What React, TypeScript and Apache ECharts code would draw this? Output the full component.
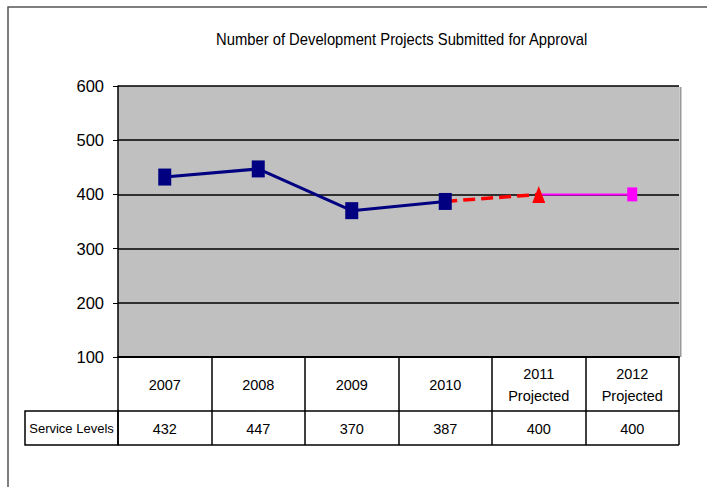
import React, { useEffect, useRef } from "react";
import * as echarts from "echarts";

const categories = ["2007", "2008", "2009", "2010", "2011\nProjected", "2012\nProjected"];
const serviceLevels = [432, 447, 370, 387, 400, 400];
const actualSeries: (number | string)[] = [432, 447, 370, 387, "-", "-"];
const projected2011: any[] = ["-", "-", "-", { value: 387, symbol: "none" }, 400, "-"];
const projected2012: any[] = ["-", "-", "-", "-", { value: 400, symbol: "none" }, 400];
const yTicks = { min: 100, max: 600, interval: 100 };
const titleText = "Number of Development Projects Submitted for Approval";
const rowLabel = "Service Levels";

const FONT = "'Liberation Sans', Arial, sans-serif";

export default function App() {
  const ref = useRef<HTMLDivElement>(null);
  useEffect(() => {
    if (!ref.current) return;
    const chart = echarts.init(ref.current, null, { renderer: "svg" });
    const gL = 118, gR = 679, gT = 86, gB = 357;
    const row1 = 54, row2 = 34;
    chart.setOption({
      animation: false,
      backgroundColor: "#ffffff",
      textStyle: { fontFamily: FONT, color: "#000" },
      grid: {
        left: gL,
        right: 707 - gR,
        top: gT,
        bottom: 487 - gB,
        show: true,
        backgroundColor: "#C0C0C0",
        borderWidth: 0,
      },
      xAxis: [
        {
          type: "category",
          data: categories,
          boundaryGap: true,
          position: "bottom",
          axisLine: { show: true, lineStyle: { color: "#000", width: 2 } },
          axisTick: { show: true, length: row1 + row2, lineStyle: { color: "#000", width: 1.5 } },
          axisLabel: {
            fontFamily: FONT,
            fontSize: 14.5,
            color: "#000",
            lineHeight: 22,
            verticalAlign: "middle",
            margin: row1 / 2 + 1,
          },
        },
        {
          type: "category",
          data: serviceLevels.map(String),
          boundaryGap: true,
          position: "bottom",
          offset: row1,
          axisLine: { show: true, lineStyle: { color: "#000", width: 1.5 } },
          axisTick: { show: false },
          axisLabel: {
            fontFamily: FONT,
            fontSize: 14.5,
            color: "#000",
            verticalAlign: "middle",
            margin: row2 / 2 + 1,
          },
        },
      ],
      yAxis: {
        type: "value",
        min: yTicks.min,
        max: yTicks.max,
        interval: yTicks.interval,
        axisLine: { show: true, lineStyle: { color: "#000", width: 1.5 } },
        axisTick: { show: true, length: 5, lineStyle: { color: "#000" } },
        axisLabel: { fontFamily: FONT, fontSize: 16.5, color: "#000", margin: 14 },
        splitLine: { show: true, lineStyle: { color: "#000", width: 1.5 } },
      },
      series: [
        {
          name: "2012 Projected",
          type: "line",
          data: projected2012,
          xAxisIndex: 0,
          symbol: "rect",
          symbolSize: [10, 14],
          lineStyle: { color: "#FF00FF", width: 2 },
          itemStyle: { color: "#FF00FF" },
          z: 2,
        },
        {
          name: "2011 Projected",
          type: "line",
          data: projected2011,
          xAxisIndex: 0,
          symbol: "triangle",
          symbolSize: [13, 17],
          lineStyle: { color: "#FF0000", width: 3.5, type: [12, 6] },
          itemStyle: { color: "#FF0000" },
          z: 3,
        },
        {
          name: rowLabel,
          type: "line",
          data: actualSeries,
          xAxisIndex: 0,
          symbol: "rect",
          symbolSize: [13, 17],
          lineStyle: { color: "#000080", width: 3 },
          itemStyle: { color: "#000080" },
          z: 4,
        },
      ],
      graphic: [
        {
          type: "rect",
          shape: { x: 8, y: 7, width: 720, height: 500 },
          style: { fill: "none", stroke: "#555", lineWidth: 1.5 },
          silent: true,
        },
        {
          type: "text",
          x: 216,
          y: 31,
          scaleX: 0.87,
          style: {
            text: titleText,
            fontFamily: FONT,
            fontSize: 17,
            fill: "#000",
            align: "left",
            verticalAlign: "top",
          },
          silent: true,
        },
        {
          type: "line",
          shape: { x1: gR + 1.5, y1: gT + 1, x2: gR + 1.5, y2: gB },
          style: { stroke: "#999", lineWidth: 2 },
          silent: true,
        },
        {
          type: "rect",
          shape: { x: 25, y: gB + row1, width: gL - 25, height: row2 },
          style: { fill: "none", stroke: "#000", lineWidth: 1.5 },
          silent: true,
        },
        {
          type: "line",
          shape: { x1: gL, y1: gB + row1 + row2, x2: gR, y2: gB + row1 + row2 },
          style: { stroke: "#000", lineWidth: 1.5 },
          silent: true,
        },
        {
          type: "text",
          x: (25 + gL) / 2,
          y: gB + row1 + row2 / 2,
          style: {
            text: rowLabel,
            fontFamily: FONT,
            fontSize: 13,
            fill: "#000",
            align: "center",
            verticalAlign: "middle",
          },
          silent: true,
        },
      ],
    });
    return () => chart.dispose();
  }, []);
  return (
    <div
      ref={ref}
      style={{ position: "fixed", left: 0, top: 0, width: 707, height: 487 }}
    />
  );
}
